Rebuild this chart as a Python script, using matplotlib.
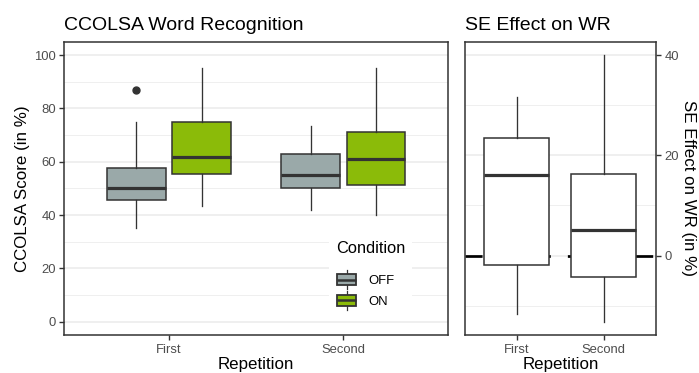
import matplotlib.pyplot as plt
from matplotlib.legend_handler import HandlerBase
from matplotlib.patches import Patch, Rectangle
from matplotlib.lines import Line2D

plt.rcParams['font.family'] = ['Liberation Sans', 'DejaVu Sans']

repetitions = ["First", "Second"]
conditions = ["OFF", "ON"]
cond_colors = ["#9AA9A9", "#8BBB09"]

# box summaries per repetition: whisker low, q1, median, q3, whisker high
score_off = [[35.1, 45.5, 50.1, 57.5, 74.8], [42.0, 50.1, 55.0, 62.8, 73.2]]
score_on = [[43.5, 55.5, 61.7, 74.7, 95.0], [40.1, 51.3, 61.0, 71.3, 95.0]]
score_off_outliers = [[86.7], []]
score_on_outliers = [[], []]

se_effect = [[-11.6, -1.9, 16.0, 23.4, 31.6], [-13.2, -4.2, 5.1, 16.2, 40.0]]
se_outliers = [[], []]

INK = "#333333"
TICK_TXT = "#4D4D4D"
GRID = "#EBEBEB"


def make_stats(summaries, outliers):
    stats = []
    for s, out in zip(summaries, outliers):
        lo, q1, med, q3, hi = s
        stats.append(dict(whislo=lo, q1=q1, med=med, q3=q3, whishi=hi, fliers=out))
    return stats


def draw_boxes(ax, stats, positions, width, face):
    ax.bxp(stats, positions=positions, widths=width, patch_artist=True,
           showcaps=False, showfliers=True, manage_ticks=False,
           boxprops=dict(facecolor=face, edgecolor=INK, linewidth=1.1),
           medianprops=dict(color=INK, linewidth=2.3, solid_capstyle='butt'),
           whiskerprops=dict(color=INK, linewidth=0.95),
           flierprops=dict(marker='o', markerfacecolor=INK, markeredgecolor=INK,
                           markersize=5),
           zorder=3)


def style_axes(ax):
    for sp in ax.spines.values():
        sp.set_color(INK)
        sp.set_linewidth(1.1)
    ax.tick_params(axis='both', which='major', colors=INK, labelcolor=TICK_TXT,
                   labelsize=9.4, length=3.7, width=1.0, pad=2.5)
    ax.tick_params(axis='both', which='minor', length=0)
    ax.grid(which='major', axis='y', color=GRID, linewidth=1.1, zorder=0)
    ax.grid(which='minor', axis='y', color=GRID, linewidth=0.55, zorder=0)
    ax.set_axisbelow(True)


class BoxKeyHandler(HandlerBase):
    def create_artists(self, legend, orig_handle, xdescent, ydescent,
                       width, height, fontsize, trans):
        x0, y0 = -xdescent, -ydescent
        cx = x0 + width / 2
        whisk = Line2D([cx, cx], [y0, y0 + height], color=INK, lw=0.9, transform=trans)
        box = Rectangle((x0 + 0.04 * width, y0 + 0.2 * height), 0.92 * width,
                        0.6 * height, facecolor=orig_handle.get_facecolor(),
                        edgecolor=INK, lw=1.3, transform=trans)
        med = Line2D([x0 + 0.04 * width, x0 + 0.96 * width],
                     [y0 + height / 2, y0 + height / 2], color=INK, lw=1.8,
                     solid_capstyle='butt', transform=trans)
        return [whisk, box, med]


fig = plt.figure(figsize=(6.99, 3.73), dpi=100)
ax1 = fig.add_axes([0.0920, 0.1019, 0.5489, 0.7863])
ax2 = fig.add_axes([0.6648, 0.1019, 0.2737, 0.7863])

# left panel: scores by repetition and condition
xs = [1, 2]
dodge = 0.1875
draw_boxes(ax1, make_stats(score_off, score_off_outliers), [x - dodge for x in xs], 0.3375, cond_colors[0])
draw_boxes(ax1, make_stats(score_on, score_on_outliers), [x + dodge for x in xs], 0.3375, cond_colors[1])
ax1.set_xlim(0.4, 2.6)
ax1.set_ylim(-5, 105)
ax1.set_xticks(xs)
ax1.set_xticklabels(repetitions)
ax1.set_yticks(range(0, 101, 20))
ax1.set_yticks(range(10, 100, 20), minor=True)
style_axes(ax1)
ax1.set_ylabel("CCOLSA Score (in %)", fontsize=12.2, labelpad=3)
ax1.set_xlabel("Repetition", fontsize=12.2, labelpad=1.2)
ax1.set_title("CCOLSA Word Recognition", loc='left', fontsize=14, pad=8.3)

handles = [Patch(facecolor=c, edgecolor=INK) for c in cond_colors]
leg = ax1.legend(handles, conditions, title="Condition", loc='center',
                 bbox_to_anchor=(0.798, 0.204), handler_map={Patch: BoxKeyHandler()},
                 fontsize=9.4, title_fontsize=11.8, frameon=True, fancybox=False,
                 handlelength=1.65, handleheight=1.8, labelspacing=0.17,
                 handletextpad=0.85, borderpad=0.5, alignment='left')
leg._legend_box.sep = 10.5  # extra room between title and keys
leg.get_frame().set_facecolor('white')
leg.get_frame().set_edgecolor('none')
leg.get_frame().set_alpha(1)
leg.set_zorder(5)

# right panel: effect of SE per repetition
ax2.axhline(0, color='black', linewidth=1.95, linestyle=(0, (6.3, 6.3)),
            dash_capstyle='butt', zorder=2)
draw_boxes(ax2, make_stats(se_effect, se_outliers), xs, 0.75, 'white')
ax2.set_xlim(0.4, 2.6)
ax2.set_ylim(-15.86, 42.66)
ax2.set_xticks(xs)
ax2.set_xticklabels(repetitions)
ax2.set_yticks([0, 20, 40])
ax2.set_yticks([-10, 10, 30], minor=True)
ax2.yaxis.tick_right()
ax2.yaxis.set_label_position('right')
style_axes(ax2)
ax2.set_ylabel("SE Effect on WR (in %)", fontsize=12.2, rotation=-90,
               va='bottom', labelpad=1.2)
ax2.set_xlabel("Repetition", fontsize=12.2, labelpad=1.2)
ax2.set_title("SE Effect on WR", loc='left', fontsize=14, pad=8.3)

fig.savefig("out.png", dpi=100)
